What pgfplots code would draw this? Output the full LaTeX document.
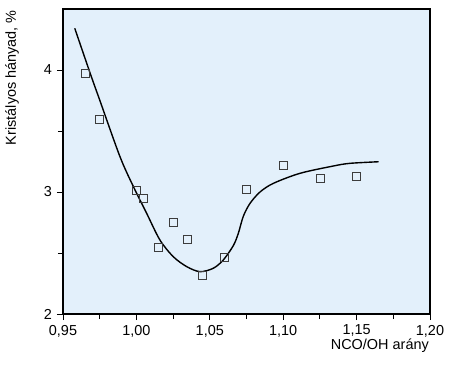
\documentclass[border=0pt]{standalone}
\usepackage{fontspec}
\setmainfont{Liberation Sans}
\usepackage{pgfplots}
\pgfplotsset{compat=1.18}
\definecolor{bgblue}{RGB}{227,240,251}
\definecolor{markgray}{RGB}{60,60,60}
\begin{document}
\fontsize{14.5}{17}\selectfont
\begin{tikzpicture}
\begin{axis}[
  scale only axis,
  width=367bp, height=305bp,
  xmin=0.95, xmax=1.20, ymin=2, ymax=4.5,
  xtick={0.95,1.00,1.05,1.10,1.15,1.20},
  ytick={2,3,4},
  minor x tick num=1,
  minor y tick num=1,
  tick pos=left,
  tick align=outside,
  major tick length=6bp,
  minor tick length=5bp,
  every tick/.style={black, line width=0.9pt},
  axis line style={line width=1.2pt},
  axis background/.style={fill=bgblue},
  /pgf/number format/assume math mode=true,
  xticklabel style={/pgf/number format/fixed, /pgf/number format/fixed zerofill, /pgf/number format/precision=2, /pgf/number format/use comma, font=\fontsize{14.5}{17}\selectfont},
  yticklabel style={/pgf/number format/fixed, /pgf/number format/precision=0, font=\fontsize{14.5}{17}\selectfont},
  xlabel={NCO/OH arány},
  ylabel={Kristályos hányad, \%},
  xlabel style={at={(rel axis cs:1,0)}, anchor=north east, yshift=-24bp, inner sep=1pt, font=\fontsize{14.5}{17}\selectfont},
  ylabel style={at={(rel axis cs:-0.117,1)}, anchor=south east, inner sep=1pt, font=\fontsize{14.5}{17}\selectfont},
]
\coordinate (bl) at (rel axis cs:0,0);
\coordinate (tr) at (rel axis cs:1,1);
\addplot[black, line width=1.4pt, smooth, tension=0.5] coordinates {
(0.958,4.342)
(0.9686,3.97)
(0.975,3.754)
(0.9888,3.29)
(0.998,3.043)
(1.007,2.825)
(1.016,2.607)
(1.0251,2.47)
(1.0343,2.388)
(1.0433,2.347)
(1.0524,2.375)
(1.0592,2.443)
(1.066,2.56)
(1.0694,2.66)
(1.0728,2.80)
(1.0774,2.907)
(1.0842,3.0)
(1.0933,3.071)
(1.1114,3.153)
(1.1341,3.213)
(1.1455,3.235)
(1.165,3.248)
};
\addplot[only marks, mark=square, mark size=4bp, mark options={draw=markgray, line width=0.8pt}] coordinates {
(0.965,3.973)
(0.975,3.596)
(1.000,3.016)
(1.005,2.95)
(1.015,2.544)
(1.025,2.749)
(1.035,2.612)
(1.045,2.32)
(1.060,2.46)
(1.075,3.02)
(1.100,3.215)
(1.125,3.11)
(1.150,3.13)
};
\end{axis}
\useasboundingbox ([shift={(-63bp,-53bp)}]bl) rectangle ([shift={(21bp,9bp)}]tr);
\end{tikzpicture}
\end{document}
